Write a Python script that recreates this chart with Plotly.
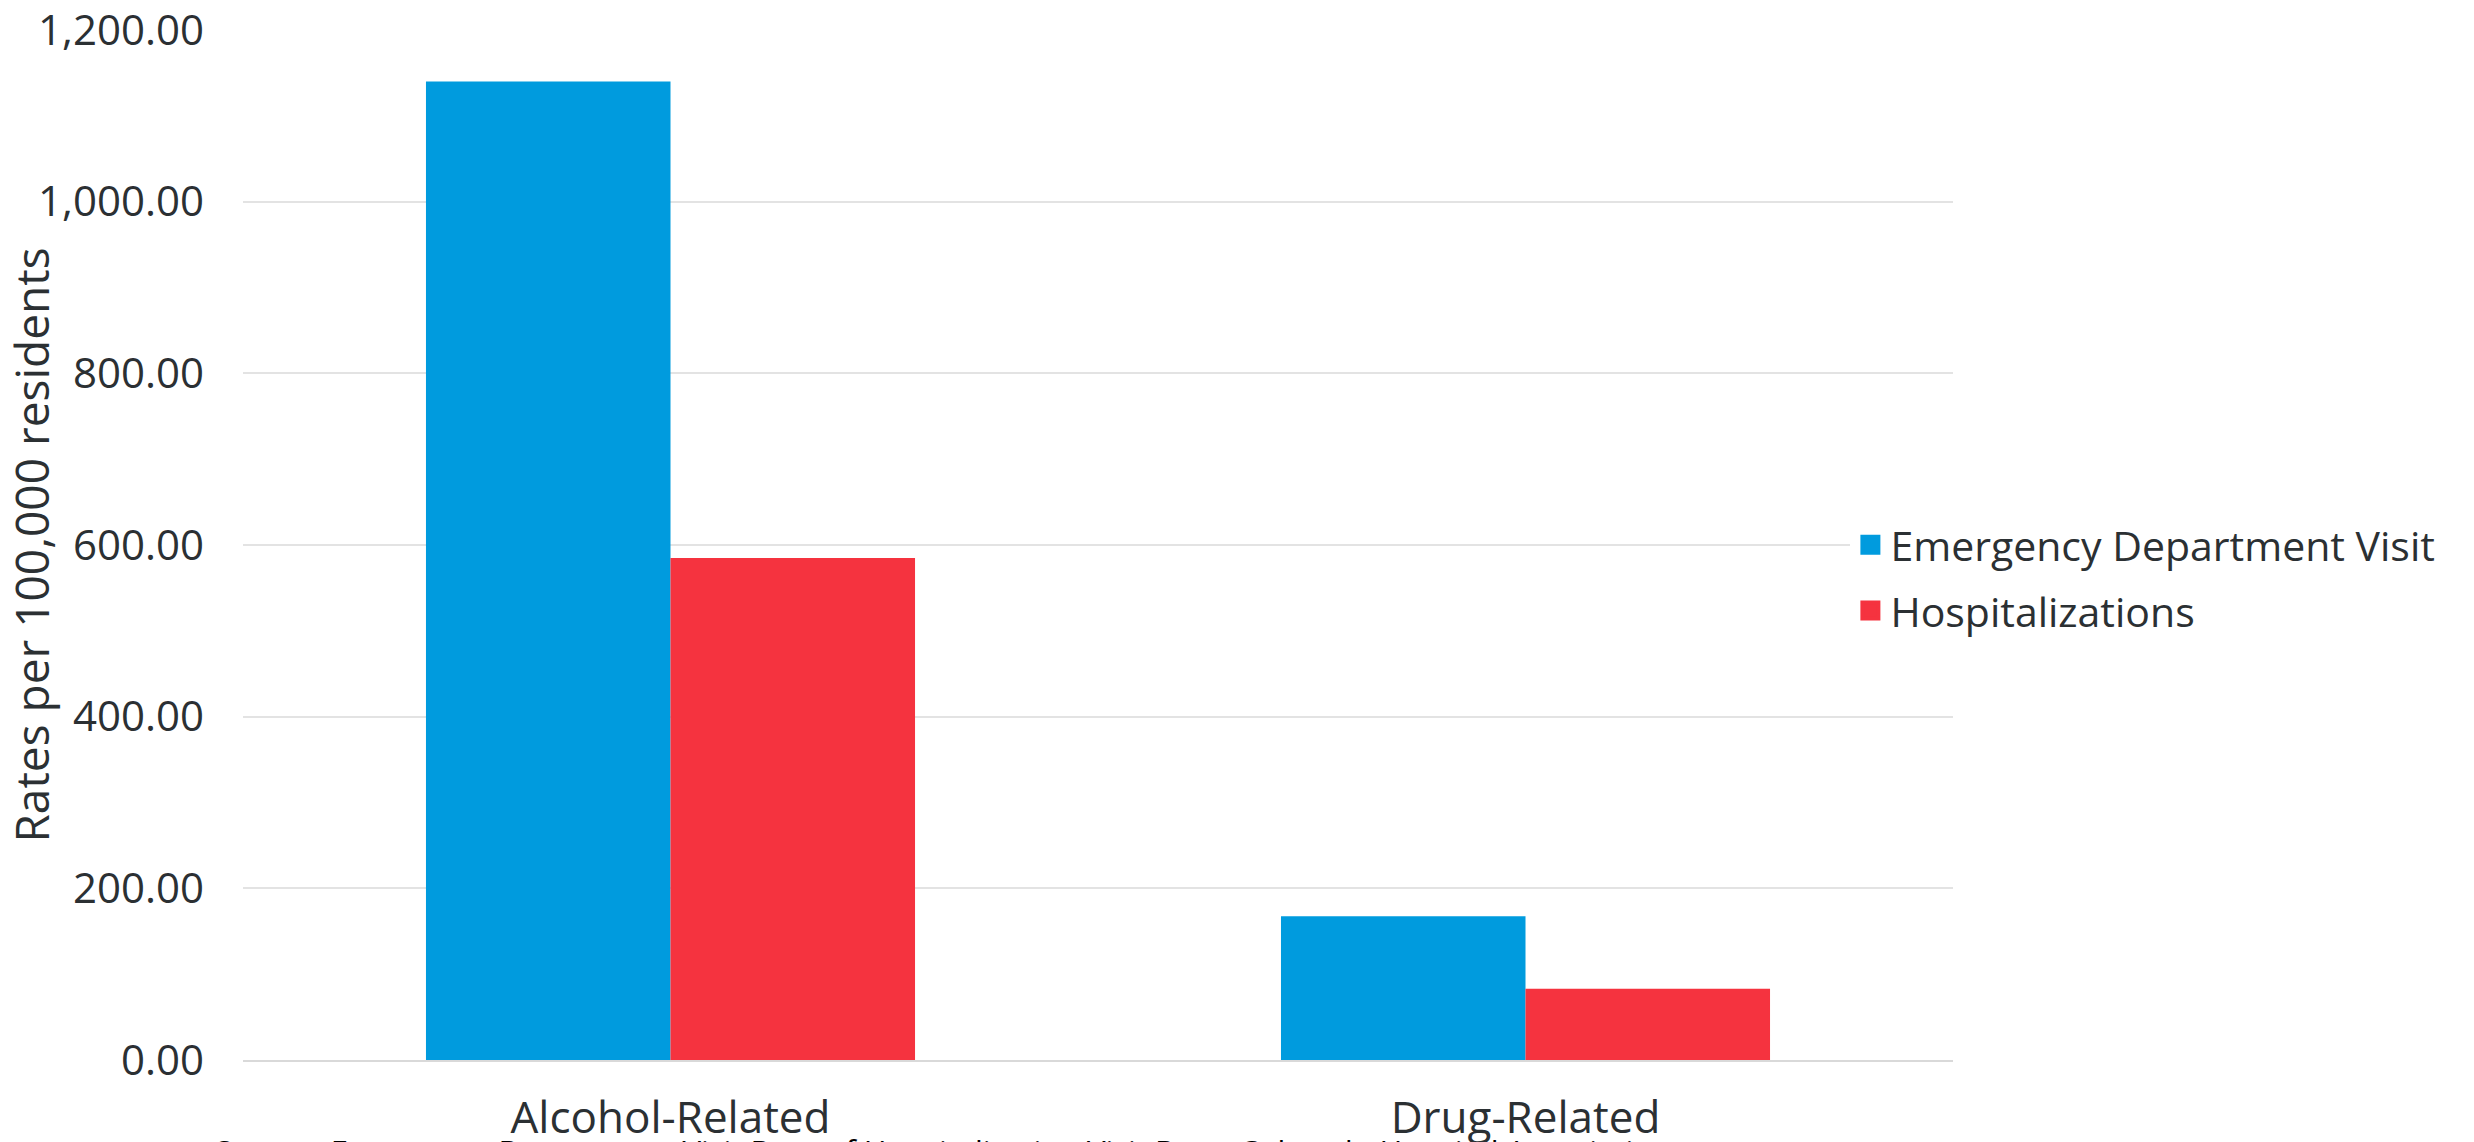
import plotly.graph_objects as go

# Rates per 100,000 residents by category
categories = ["Alcohol-Related", "Drug-Related"]
ed_visits = [1140.0, 167.5]
hospitalizations = [585.0, 83.0]

series_names = ["Emergency Department Visit", "Hospitalizations"]
series_colors = ["#009BDE", "#F5333F"]

y_ticks = [0, 200, 400, 600, 800, 1000, 1200]

source_text = ("Source: Emergency Department Visit Data of Hospitalization Visit Data: "
               "Colorado Hospital Association")

FONT = "Open Sans"
TEXT_COLOR = "#2b3033"

fig = go.Figure()
for name, vals, color in zip(series_names, [ed_visits, hospitalizations], series_colors):
    fig.add_trace(go.Bar(
        x=categories, y=vals, name=name, showlegend=False,
        marker=dict(color=color, line=dict(width=0)),
    ))

# Square legend keys, one legend box per series so the rows can be spaced freely
legend_ids = ["legend", "legend2"]
legend_rows = [0.50, 0.436]
for name, color, lid in zip(series_names, series_colors, legend_ids):
    fig.add_trace(go.Scatter(
        x=[None], y=[None], mode="markers", name=name, legend=lid,
        marker=dict(symbol="square", size=16, color=color,
                    line=dict(color=color, width=4)),
    ))

legend_style = dict(
    x=0.94, xanchor="left", yanchor="middle",
    bgcolor="white", font=dict(size=41, color=TEXT_COLOR, family=FONT),
    itemwidth=30, tracegroupgap=0,
)

fig.update_layout(
    width=2474, height=1142,
    margin=dict(l=243, r=521, t=30, b=82, pad=0),
    paper_bgcolor="white", plot_bgcolor="white",
    barmode="group", bargap=0.428, bargroupgap=0,
    font=dict(family=FONT, color=TEXT_COLOR, size=41),
    showlegend=True,
    legend=dict(y=legend_rows[0], **legend_style),
    legend2=dict(y=legend_rows[1], **legend_style),
)

fig.update_xaxes(
    showline=True, linecolor="#d9d9d9", linewidth=2,
    ticks="", tickfont=dict(size=44, color=TEXT_COLOR),
    ticklabelstandoff=18, automargin=False,
)
fig.update_yaxes(
    range=[0, 1200], tickvals=y_ticks, tickformat=",.2f",
    showgrid=True, gridcolor="#e3e3e3", gridwidth=2,
    zeroline=False, showline=False,
    ticks="", tickfont=dict(size=42, color=TEXT_COLOR),
    ticklabelstandoff=38, ticklabeloverflow="allow", automargin=False,
    title=dict(text="Rates per 100,000 residents", font=dict(size=46, color=TEXT_COLOR), standoff=10),
)

# Source line along the bottom edge
fig.add_annotation(
    xref="paper", yref="paper", x=-0.0175, y=-0.066,
    xanchor="left", yanchor="top", showarrow=False,
    text=source_text, font=dict(size=31, color="black", family=FONT),
)

fig.write_html("out.html")
